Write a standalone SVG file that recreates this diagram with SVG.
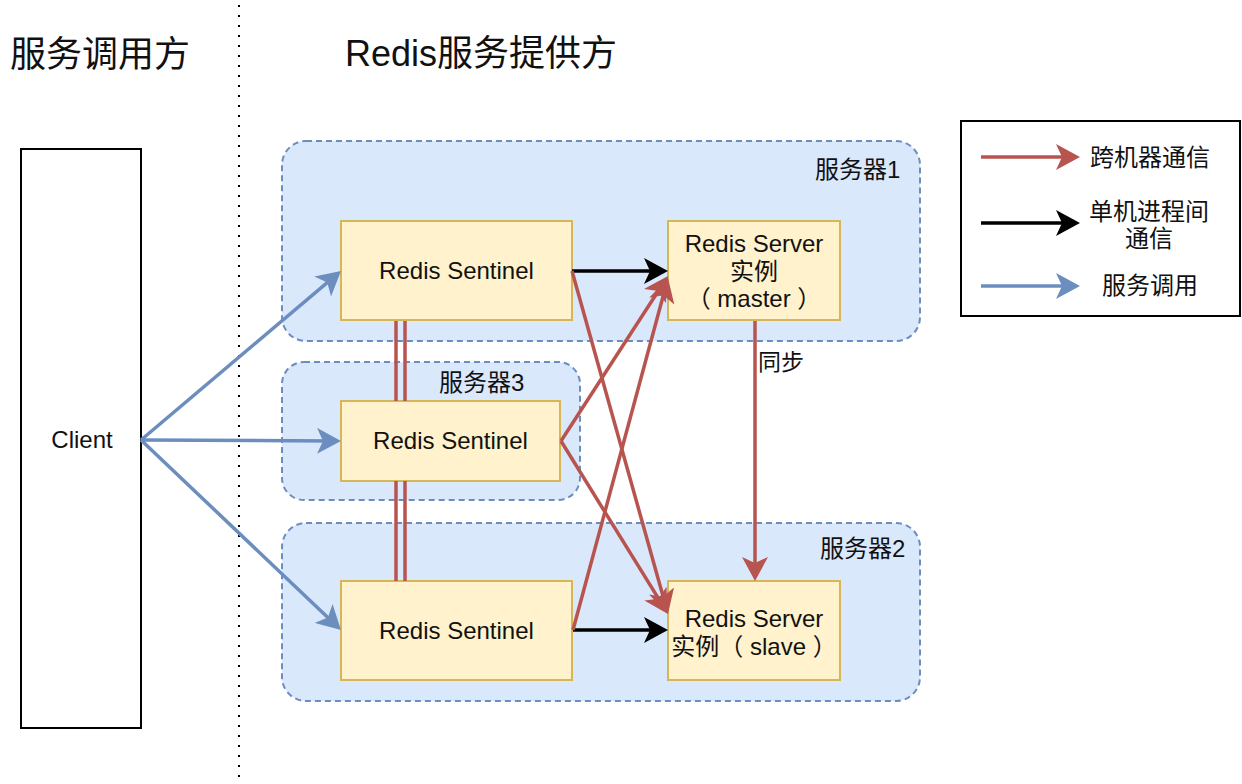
<svg xmlns="http://www.w3.org/2000/svg" width="1242" height="784" viewBox="0 0 1242 784">
<style>
  text { font-family: "Liberation Sans", "Noto Sans CJK SC", sans-serif; fill: #111; }
  .t24 { font-size: 24px; }
  .mid { text-anchor: middle; }
  .group { fill: #dae8fc; stroke: #6c8ebf; stroke-width: 2; stroke-dasharray: 6 4; }
  .node { fill: #fff2cc; stroke: #d6b656; stroke-width: 2; }
  .red { stroke: #b85450; stroke-width: 3.5; fill: none; }
  .blue { stroke: #6c8ebf; stroke-width: 3.5; fill: none; }
  .black { stroke: #000; stroke-width: 3.5; fill: none; }
</style>
<defs>
  <marker id="arR" markerUnits="userSpaceOnUse" markerWidth="25" markerHeight="26" refX="16" refY="13" orient="auto">
    <path d="M0,0 L24,13 L0,26 L6,13 Z" fill="#b85450"/>
  </marker>
  <marker id="arB" markerUnits="userSpaceOnUse" markerWidth="25" markerHeight="26" refX="16" refY="13" orient="auto">
    <path d="M0,0 L24,13 L0,26 L6,13 Z" fill="#6c8ebf"/>
  </marker>
  <marker id="arK" markerUnits="userSpaceOnUse" markerWidth="25" markerHeight="26" refX="16" refY="13" orient="auto">
    <path d="M0,0 L24,13 L0,26 L6,13 Z" fill="#000"/>
  </marker>
</defs>
<rect width="1242" height="784" fill="#fff"/>

<g id="titles">
  <text x="10" y="67" style="font-size:36px">服务调用方</text>
  <text x="345" y="66" style="font-size:36px">Redis服务提供方</text>
</g>
<g id="divider">
  <line x1="239" y1="5" x2="239" y2="784" stroke="#000" stroke-width="2" stroke-dasharray="2 8"/>
</g>

<g id="server1">
  <rect class="group" x="282" y="141" width="638" height="200" rx="24" ry="24"/>
  <text class="t24" x="815" y="178">服务器1</text>
</g>
<g id="server3">
  <rect class="group" x="282" y="362" width="298" height="138" rx="22" ry="22"/>
  <text class="t24" x="439" y="391">服务器3</text>
</g>
<g id="server2">
  <rect class="group" x="282" y="523" width="638" height="178" rx="24" ry="24"/>
  <text class="t24" x="820" y="557">服务器2</text>
</g>

<g id="client">
  <rect x="21" y="149" width="120" height="579" fill="#fff" stroke="#000" stroke-width="2"/>
  <text class="t24 mid" x="82" y="448">Client</text>
</g>

<g id="sentinel1">
  <rect class="node" x="341" y="221" width="231" height="99"/>
  <text class="t24 mid" x="456.5" y="279">Redis Sentinel</text>
</g>
<g id="master">
  <rect class="node" x="668" y="221" width="172" height="99"/>
  <text class="t24 mid" x="754" y="252">Redis Server</text>
  <text class="t24 mid" x="754" y="280">实例</text>
  <text class="t24 mid" x="754" y="307">（ master ）</text>
</g>
<g id="sentinel3">
  <rect class="node" x="341" y="401" width="219" height="80"/>
  <text class="t24 mid" x="450.5" y="449">Redis Sentinel</text>
</g>
<g id="sentinel2">
  <rect class="node" x="341" y="581" width="231" height="99"/>
  <text class="t24 mid" x="456.5" y="639">Redis Sentinel</text>
</g>
<g id="slave">
  <rect class="node" x="668" y="581" width="172" height="99"/>
  <text class="t24 mid" x="754" y="627">Redis Server</text>
  <text class="t24 mid" x="754" y="655">实例（ slave ）</text>
</g>

<g id="connectors">
  <!-- blue service calls -->
  <line class="blue" x1="141" y1="440" x2="334.89" y2="276.16" marker-end="url(#arB)"/>
  <line class="blue" x1="141" y1="440" x2="333" y2="440.96" marker-end="url(#arB)"/>
  <line class="blue" x1="141" y1="440" x2="335.2" y2="624.49" marker-end="url(#arB)"/>
  <!-- black local -->
  <line class="black" x1="572" y1="271" x2="660" y2="271" marker-end="url(#arK)"/>
  <line class="black" x1="573" y1="630" x2="660" y2="630" marker-end="url(#arK)"/>
  <!-- red sentinel links (double lines) -->
  <line class="red" x1="396" y1="321" x2="396" y2="401"/>
  <line class="red" x1="405" y1="321" x2="405" y2="401"/>
  <line class="red" x1="396" y1="481" x2="396" y2="581"/>
  <line class="red" x1="405" y1="481" x2="405" y2="581"/>
  <!-- red cross-machine -->
  <line class="red" x1="572" y1="271" x2="665.84" y2="606.3" marker-end="url(#arR)"/>
  <line class="red" x1="561" y1="441" x2="663.65" y2="282.71" marker-end="url(#arR)"/>
  <line class="red" x1="561" y1="441" x2="663.79" y2="607.2" marker-end="url(#arR)"/>
  <line class="red" x1="573" y1="630" x2="665.92" y2="285.72" marker-end="url(#arR)"/>
  <!-- sync -->
  <line class="red" x1="755" y1="321" x2="755" y2="573" marker-end="url(#arR)"/>
  <text x="758" y="370" style="font-size:23px">同步</text>
</g>

<g id="legend">
  <rect x="961" y="121" width="279" height="195" fill="#fff" stroke="#000" stroke-width="2"/>
  <line class="red" x1="981" y1="157" x2="1072" y2="157" marker-end="url(#arR)"/>
  <text class="t24" x="1090" y="166">跨机器通信</text>
  <line class="black" x1="981" y1="223" x2="1072" y2="223" marker-end="url(#arK)"/>
  <text class="t24 mid" x="1149" y="220">单机进程间</text>
  <text class="t24 mid" x="1149" y="247">通信</text>
  <line class="blue" x1="981" y1="286" x2="1072" y2="286" marker-end="url(#arB)"/>
  <text class="t24" x="1102" y="294">服务调用</text>
</g>
</svg>
